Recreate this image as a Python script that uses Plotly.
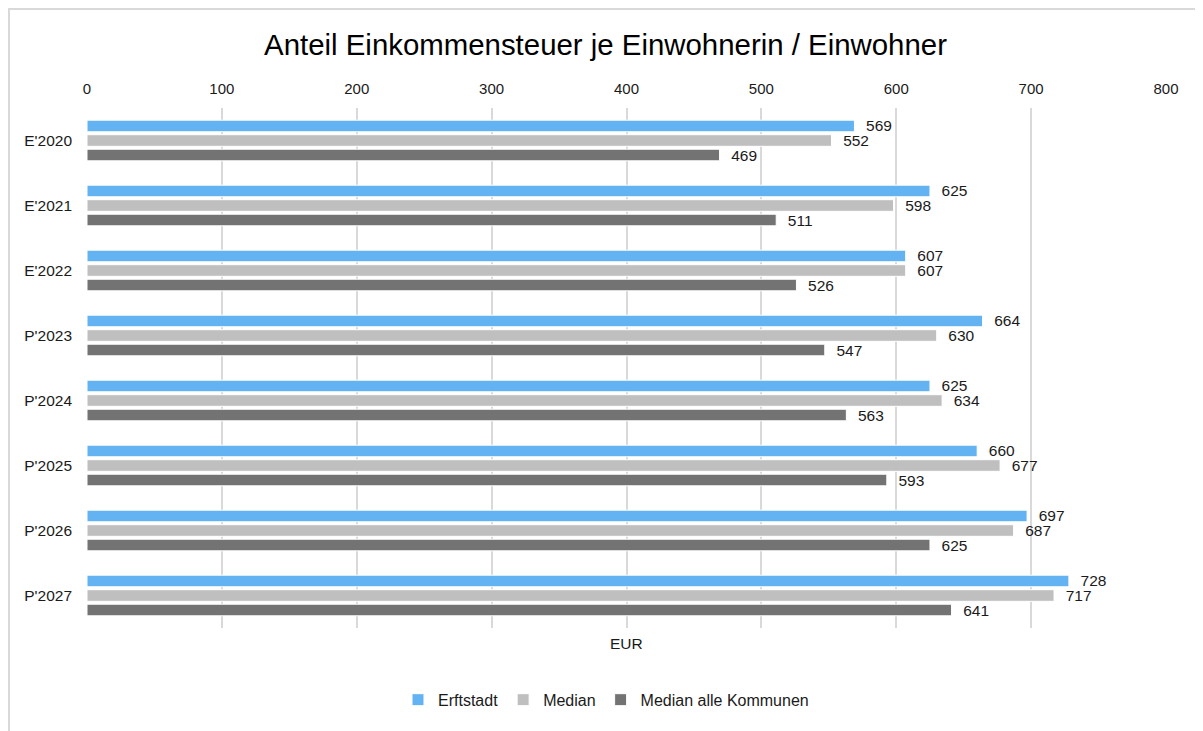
import plotly.graph_objects as go

categories = ["E'2020", "E'2021", "E'2022", "P'2023", "P'2024", "P'2025", "P'2026", "P'2027"]
erftstadt = [569, 625, 607, 664, 625, 660, 697, 728]
median = [552, 598, 607, 630, 634, 677, 687, 717]
median_alle = [469, 511, 526, 547, 563, 593, 625, 641]
series_names = ["Erftstadt", "Median", "Median alle Kommunen"]
colors = ["#63b3f3", "#bfbfbf", "#737373"]
x_ticks = [0, 100, 200, 300, 400, 500, 600, 700, 800]

FONT = "Liberation Sans, Arial, sans-serif"
NB = "\u00a0"

fig = go.Figure()
for name, vals, col in zip(series_names, [erftstadt, median, median_alle], colors):
    fig.add_trace(go.Bar(
        y=categories, x=vals, name=name, orientation="h",
        marker=dict(color=col, line=dict(color="#ffffff", width=1)),
        text=[str(v) for v in vals], texttemplate=NB * 2 + "%{text}",
        textposition="outside",
        textfont=dict(size=15.5, color="#1a1a1a", family=FONT),
        constraintext="none",
        cliponaxis=False,
    ))

# page body has an 8px margin, so the figure is drawn 8px smaller and offset
W, H = 1195, 723
L, T, R, B = 79, 100, 37, 103
PW, PH = W - L - R, H - T - B

fig.update_layout(
    width=W, height=H,
    margin=dict(l=L, r=R, t=T, b=B, autoexpand=False),
    paper_bgcolor="white", plot_bgcolor="white",
    font=dict(family=FONT, color="#1a1a1a"),
    barmode="group", bargap=0.33, bargroupgap=0.2,
    title=dict(text="Anteil Einkommensteuer je Einwohnerin / Einwohner",
               x=0.5, xanchor="center", y=0.949, yanchor="middle",
               font=dict(size=29.4, color="#000000", family=FONT)),
    xaxis=dict(side="top", range=[0, 800], tickvals=x_ticks, automargin=False,
               showgrid=True, gridcolor="#d9d9d9", gridwidth=2,
               zeroline=False, showline=False,
               tickfont=dict(size=15, color="#1a1a1a"), ticklabelstandoff=10),
    yaxis=dict(autorange="reversed", showgrid=False, zeroline=False, showline=False,
               automargin=False,
               tickfont=dict(size=15.5, color="#1a1a1a"), ticklabelstandoff=14),
    legend=dict(orientation="h", x=0.481, xanchor="center", y=-0.138, yanchor="middle",
                font=dict(size=16, color="#1a1a1a"), itemwidth=30, traceorder="normal"),
    showlegend=True,
)

fig.add_annotation(text="EUR", xref="paper", yref="paper", x=0.5, y=-15 / PH,
                   showarrow=False, yanchor="middle", font=dict(size=15.5, color="#1a1a1a"))

# outer chart border (left and top edges visible)
fig.add_shape(type="rect", xref="paper", yref="paper",
              x0=(1 - L) / PW, x1=(W + 10 - L) / PW,
              y0=-(B + 10) / PH, y1=(PH + T - 1) / PH,
              line=dict(color="#d9d9d9", width=2), layer="below")

fig.write_html("out.html")
